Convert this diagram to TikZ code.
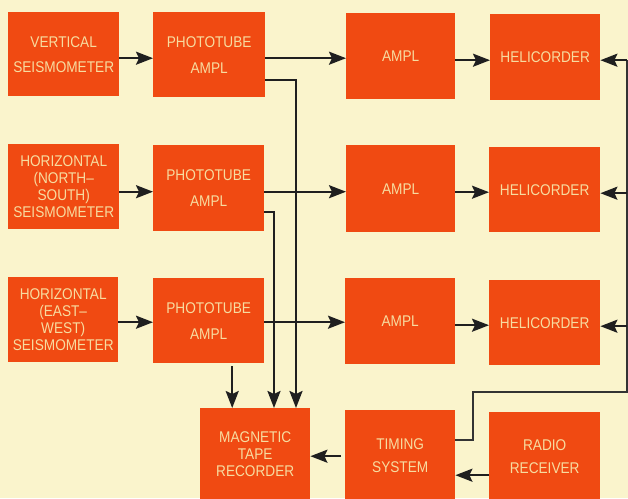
\documentclass[tikz,border=0pt]{standalone}
\usepackage{fontspec}
\setmainfont{Liberation Sans}[FakeStretch=0.88]
\usetikzlibrary{arrows.meta}
\definecolor{bg}{HTML}{FAF4CC}
\definecolor{boxc}{HTML}{F04A12}
\definecolor{txt}{HTML}{F7DCA0}
\begin{document}
\begin{tikzpicture}[x=1pt,y=-1pt,
  blk/.style={fill=boxc, anchor=north west, inner sep=0pt, text=txt, align=center,
    font=\fontsize{15.5}{17}\selectfont},
  arr/.style={draw=black!88, line width=2.2pt, -{Stealth[inset=3pt,length=17pt,width=13pt]}},
  wire/.style={draw=black!80, line width=1.8pt}]
\fill[bg] (0,0) rectangle (628,498);
\useasboundingbox (0,0) rectangle (628,498);
% column 1
\node[blk, minimum width=111pt, minimum height=84pt] (vs) at (8,12) {VERTICAL\\[8pt]SEISMOMETER};
\node[blk, minimum width=111pt, minimum height=85pt] (hn) at (8,144) {HORIZONTAL\\(NORTH–\\SOUTH)\\SEISMOMETER};
\node[blk, minimum width=110pt, minimum height=85pt] (hw) at (8,277) {HORIZONTAL\\(EAST–\\WEST)\\SEISMOMETER};
% column 2
\node[blk, minimum width=112pt, minimum height=85pt] (pt1) at (153,12) {PHOTOTUBE\\[9pt]AMPL};
\node[blk, minimum width=111pt, minimum height=86pt] (pt2) at (153,145) {PHOTOTUBE\\[9pt]AMPL};
\node[blk, minimum width=111pt, minimum height=85pt] (pt3) at (153,278) {PHOTOTUBE\\[9pt]AMPL};
% column 3
\node[blk, minimum width=109pt, minimum height=86pt] (am1) at (346,13) {AMPL};
\node[blk, minimum width=109pt, minimum height=87pt] (am2) at (346,145) {AMPL};
\node[blk, minimum width=110pt, minimum height=86pt] (am3) at (345,278) {AMPL};
% column 4
\node[blk, minimum width=110pt, minimum height=86pt] (he1) at (490,14) {HELICORDER};
\node[blk, minimum width=111pt, minimum height=85pt] (he2) at (489,147) {HELICORDER};
\node[blk, minimum width=111pt, minimum height=85pt] (he3) at (489,280) {HELICORDER};
% bottom row
\node[blk, minimum width=110pt, minimum height=92pt] (mtr) at (200,408) {MAGNETIC\\TAPE\\RECORDER};
\node[blk, minimum width=110pt, minimum height=90pt] (ts) at (345,410) {TIMING\\[6pt]SYSTEM};
\node[blk, minimum width=111pt, minimum height=88pt] (rr) at (489,412) {RADIO\\[6pt]RECEIVER};
% seismometer -> phototube
\draw[arr] ([yshift=-3.5pt]pt1.west -| vs.east) -- ([yshift=-3.5pt]pt1.west);
\draw[arr] ([yshift=-3.5pt]pt2.west -| hn.east) -- ([yshift=-3.5pt]pt2.west);
\draw[arr] ([yshift=-1.5pt]pt3.west -| hw.east) -- ([yshift=-1.5pt]pt3.west);
% phototube -> ampl
\draw[arr] ([yshift=-3.5pt]pt1.east) -- ([yshift=-3.5pt]pt1.east -| am1.west);
\draw[arr] ([yshift=-3.5pt]pt2.east) -- ([yshift=-3.5pt]pt2.east -| am2.west);
\draw[arr] ([yshift=-1.5pt]pt3.east) -- ([yshift=-1.5pt]pt3.east -| am3.west);
% ampl -> helicorder
\draw[arr] ([yshift=-4pt]am1.east) -- ([yshift=-4pt]am1.east -| he1.west);
\draw[arr] ([yshift=-3.5pt]am2.east) -- ([yshift=-3.5pt]am2.east -| he2.west);
\draw[arr] ([yshift=-4pt]am3.east) -- ([yshift=-4pt]am3.east -| he3.west);
% phototube -> magnetic tape recorder
\coordinate (c1) at (296,0);
\coordinate (c2) at (274,0);
\draw[arr] ([yshift=-25.5pt]pt1.east) -| (c1 |- mtr.north);
\draw[arr] ([yshift=-24pt]pt2.east) -| (c2 |- mtr.north);
\draw[arr] ([xshift=23.5pt,yshift=-3pt]pt3.south) -- ([xshift=23.5pt]pt3.south |- mtr.north);
% timing bus
\coordinate (b1) at (627,60);
\coordinate (b2) at (627,392);
\coordinate (b3) at (473,392);
\draw[wire] ([yshift=15pt]ts.east) -| (b3) -- (b2) -- (b1);
\draw[arr] ([yshift=-3pt]he1.east -| b1) -- ([yshift=-3pt]he1.east);
\draw[arr] ([yshift=-3.5pt]he2.east -| b1) -- ([yshift=-3.5pt]he2.east);
\draw[arr] ([yshift=-3.5pt]he3.east -| b1) -- ([yshift=-3.5pt]he3.east);
% timing -> recorder, radio -> timing
\draw[arr] ([xshift=-4pt,yshift=-1pt]ts.west) -- ([yshift=-1pt]ts.west -| mtr.east);
\draw[arr] ([yshift=-19pt]rr.west) -- ([yshift=-19pt]rr.west -| ts.east);
\end{tikzpicture}
\end{document}
